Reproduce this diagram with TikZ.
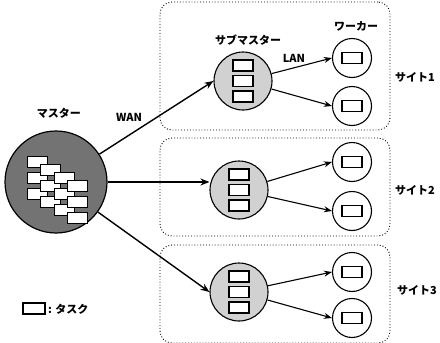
\documentclass[tikz,border=0pt]{standalone}
\usepackage{fontspec}
\setmainfont{Noto Sans CJK JP}
\usetikzlibrary{arrows.meta}
\begin{document}
\begin{tikzpicture}[x=1pt,y=-1pt,
  lbl/.style={font=\fontsize{11}{12}\selectfont\bfseries, inner sep=0},
  site/.style={draw, dotted, line width=0.9pt, rounded corners=12pt, minimum width=230pt, inner sep=0},
  masterc/.style={circle, draw, line width=1.2pt, fill=black!55, minimum size=102pt, inner sep=0},
  subc/.style={circle, draw, line width=1.1pt, fill=black!18, minimum size=58pt, inner sep=0},
  workerc/.style={circle, draw, line width=1.1pt, fill=white, minimum size=39pt, inner sep=0},
  task/.style={draw, line width=1.2pt, fill=white, minimum width=20pt, minimum height=11pt, inner sep=0},
  mtask/.style={draw, line width=1pt, fill=white, minimum width=20pt, minimum height=10.5pt, inner sep=0},
  arr/.style={-{Stealth[length=9pt,width=7pt]}, line width=1.4pt},
  larr/.style={-{Stealth[length=8pt,width=6pt]}, line width=1.1pt}]
\useasboundingbox (0,0) rectangle (440,343);

% sites
\node[site, minimum height=128pt] (site1) at (275,66) {};
\node[site, minimum height=98pt] (site2) at (275,187) {};
\node[site, minimum height=98pt] (site3) at (275,294) {};

% master
\node[masterc] (master) at (56,182) {};
\foreach \k in {0,...,3}{
  \foreach \j in {0,1,2}{
    \node[mtask] (m\k\j) at ({37+13.5*\k},{162+8*\k+16*\j}) {};
  }
}

% submasters
\foreach \n/\x/\y in {1/243/81, 2/239/190, 3/239/292}{
  \node[subc] (sub\n) at (\x,\y) {};
  \node[task] (sub\n a) at (\x,\y-15.5) {};
  \node[task] (sub\n b) at (\x,\y) {};
  \node[task] (sub\n c) at (\x,\y+15.5) {};
}

% workers
\foreach \n/\y in {11/58, 12/106, 21/162, 22/211, 31/272, 32/318}{
  \node[workerc] (w\n) at (352,\y) {};
  \node[task] (w\n t) at (352,\y) {};
}

% connectors
\draw[arr] (master) -- (sub1.west);
\draw[arr] (master.east) -- (master.east -| sub2.west);
\draw[arr] (master) -- (sub3.west);
\draw[larr] (sub1) -- (w11.west);
\draw[larr] (sub1) -- (w12.west);
\draw[larr] (sub2) -- (w21.west);
\draw[larr] (sub2) -- (w22.west);
\draw[larr] (sub3) -- (w31.west);
\draw[larr] (sub3) -- (w32.west);

% labels
\node[lbl] (lmaster) at (59,113) {マスター};
\node[lbl] (lwan) at (129,117) {WAN};
\node[lbl] (lsub) at (248,40) {サブマスター};
\node[lbl] (llan) at (294,58) {LAN};
\node[lbl] (lworker) at (356,26) {ワーカー};
\node[lbl] (ls1) at (415,77) {サイト1};
\node[lbl] (ls2) at (415,190) {サイト2};
\node[lbl] (ls3) at (417,290) {サイト3};

% legend
\node[task, minimum width=22pt] (legbox) at (34,308.5) {};
\node[lbl, anchor=west] (legtext) at (48,309) {: タスク};
\end{tikzpicture}
\end{document}
